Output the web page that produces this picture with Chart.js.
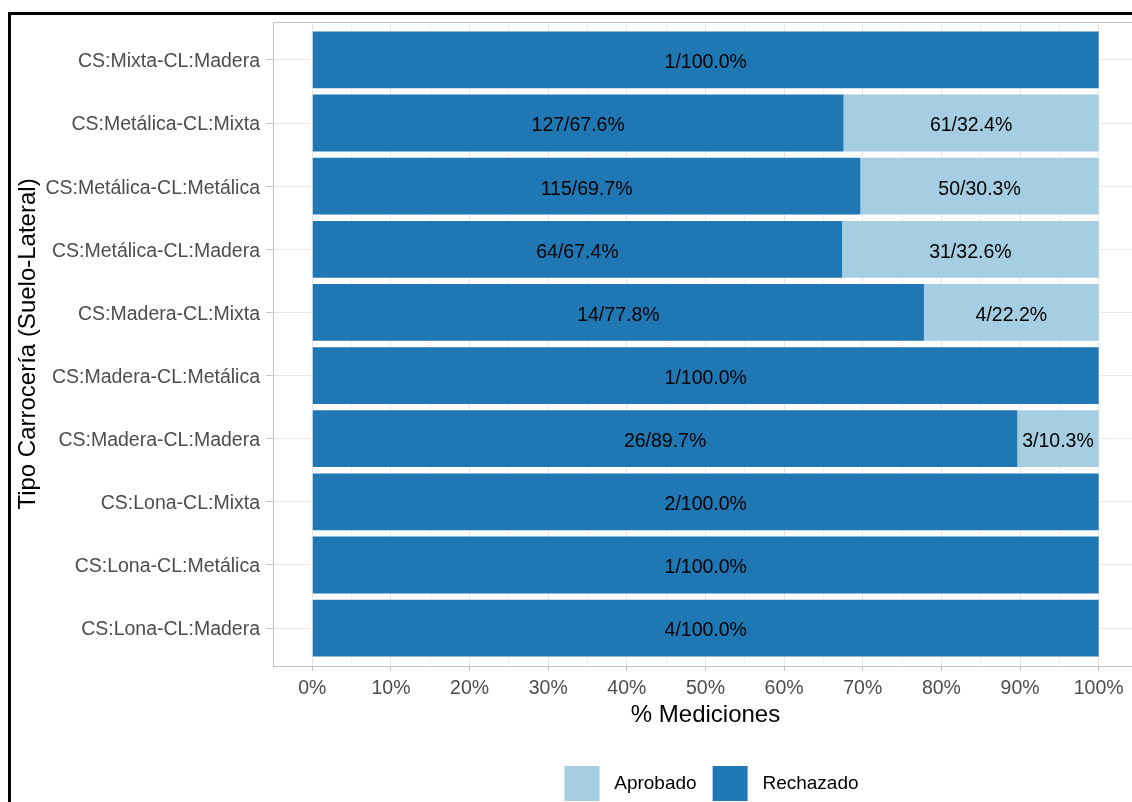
<!DOCTYPE html>
<html>
<head>
<meta charset="utf-8">
<script src="https://cdn.jsdelivr.net/npm/chart.js"></script>
<style>
  html, body { margin: 0; padding: 0; background: #fff; overflow: hidden; width: 1132px; height: 802px; }
  #frame { position: absolute; left: 8px; top: 12px; width: 1200px; height: 900px;
           border-left: 3px solid #000; border-top: 3px solid #000; z-index: 2; pointer-events: none; }
  #chart { position: absolute; left: 0; top: 0; }
</style>
</head>
<body>
<div id="frame"></div>
<canvas id="chart" width="1150" height="811"></canvas>
<script>
// categories, top to bottom as in the picture
const categories = [
  'CS:Mixta-CL:Madera',
  'CS:Metálica-CL:Mixta',
  'CS:Metálica-CL:Metálica',
  'CS:Metálica-CL:Madera',
  'CS:Madera-CL:Mixta',
  'CS:Madera-CL:Metálica',
  'CS:Madera-CL:Madera',
  'CS:Lona-CL:Mixta',
  'CS:Lona-CL:Metálica',
  'CS:Lona-CL:Madera'
]
// counts per category
const rechazado = [1, 127, 115, 64, 14, 1, 26, 2, 1, 4]
const aprobado  = [0, 61, 50, 31, 4, 0, 3, 0, 0, 0]
const xTickLabels = ['0%', '10%', '20%', '30%', '40%', '50%', '60%', '70%', '80%', '90%', '100%']

const totals = rechazado.map((r, i) => r + aprobado[i])
const toPct = (arr) => arr.map((v, i) => ({ x: v / totals[i] * 100, y: i, n: v }))

const FONT = "'Liberation Sans', Arial, sans-serif"
const GRID = '#ebebeb'
const EDGE = '#c4c4c4'

// n/xx.x% labels in the middle of each segment
const barLabels = {
    id: 'barLabels',
    afterDatasetsDraw(chart) {
        const ctx = chart.ctx
        ctx.save()
        ctx.font = '19.5px ' + FONT
        ctx.fillStyle = '#000'
        ctx.textAlign = 'center'
        ctx.textBaseline = 'middle'
        chart.data.datasets.forEach((ds, di) => {
            chart.getDatasetMeta(di).data.forEach((el, i) => {
                const d = ds.data[i]
                if (!d.n) return
                const c = el.getCenterPoint()
                ctx.fillText(d.n + '/' + d.x.toFixed(1) + '%', c.x, c.y + 3)
            })
        })
        ctx.restore()
    }
}

// panel border (top line; left/bottom come from the axes)
const panelBorder = {
    id: 'panelBorder',
    beforeDatasetsDraw(chart) {
        const { ctx, chartArea: a } = chart
        ctx.save()
        ctx.strokeStyle = EDGE
        ctx.lineWidth = 1
        ctx.strokeRect(a.left + 0.5, a.top + 0.5, a.right - a.left, a.bottom - a.top)
        ctx.restore()
    },
    afterLayout(chart) {
        // ggplot centres the legend a bit right of the panel centre
        if (chart.legend) { chart.legend.left += 6; chart.legend.right += 6 }
    }
}

new Chart(document.getElementById('chart'), {
    type: 'bar',
    data: {
        datasets: [{
            label: 'Rechazado',
            data: toPct(rechazado),
            backgroundColor: '#1f78b4',
            borderWidth: 0
        }, {
            label: 'Aprobado',
            data: toPct(aprobado),
            backgroundColor: '#a6cee3',
            borderWidth: 0
        }]
    },
    options: {
        responsive: false,
        animation: false,
        indexAxis: 'y',
        barPercentage: 0.9,
        categoryPercentage: 1,
        layout: { padding: { top: 22, right: 12, left: 0, bottom: 0 } },
        scales: {
            x: {
                type: 'linear',
                stacked: true,
                min: -5,
                max: 105,
                afterBuildTicks(scale) {
                    const t = []
                    for (let v = 0; v <= 100; v += 5) t.push({ value: v })
                    scale.ticks = t
                },
                afterFit(scale) { scale.height = 84 },
                ticks: {
                    padding: 6,
                    maxRotation: 0,
                    autoSkip: false,
                    color: '#4d4d4d',
                    font: { family: FONT, size: 19.5 },
                    callback: (v) => (v % 10 === 0 ? xTickLabels[v / 10] : '')
                },
                grid: {
                    color: (c) => (c.tick && c.tick.value % 10 === 0 ? '#e6e6e6' : '#f0f0f0'),
                    tickLength: 5,
                    tickColor: (c) => (c.tick && c.tick.value % 10 === 0 ? EDGE : 'rgba(0,0,0,0)')
                },
                border: { display: true, color: EDGE },
                title: {
                    display: true,
                    text: '% Mediciones',
                    color: '#000',
                    font: { family: FONT, size: 24 },
                    padding: { top: 0, bottom: 20 }
                }
            },
            y: {
                type: 'linear',
                stacked: true,
                reverse: true,
                offset: false,
                min: -0.6,
                max: 9.6,
                afterBuildTicks(scale) {
                    scale.ticks = categories.map((_, i) => ({ value: i }))
                },
                afterFit(scale) { scale.width = 273 },
                ticks: {
                    padding: 6,
                    labelOffset: 2,
                    autoSkip: false,
                    color: '#4d4d4d',
                    font: { family: FONT, size: 19.5 },
                    callback: (v) => categories[v]
                },
                grid: { offset: false, color: GRID, tickLength: 7, tickColor: EDGE },
                border: { display: true, color: EDGE },
                title: {
                    display: true,
                    text: 'Tipo Carrocería (Suelo-Lateral)',
                    color: '#000',
                    font: { family: FONT, size: 24 },
                    padding: { top: 14, bottom: 0 }
                }
            }
        },
        plugins: {
            tooltip: { enabled: false },
            legend: {
                position: 'bottom',
                fullSize: false,
                reverse: true,
                labels: {
                    boxWidth: 35,
                    boxHeight: 35,
                    padding: 16,
                    color: '#000',
                    font: { family: FONT, size: 19 },
                    generateLabels(chart) {
                        return Chart.defaults.plugins.legend.labels.generateLabels(chart)
                            .map((l) => ({ ...l, text: ' ' + l.text, lineWidth: 0 }))
                    }
                }
            }
        }
    },
    plugins: [barLabels, panelBorder]
})
</script>
</body>
</html>
